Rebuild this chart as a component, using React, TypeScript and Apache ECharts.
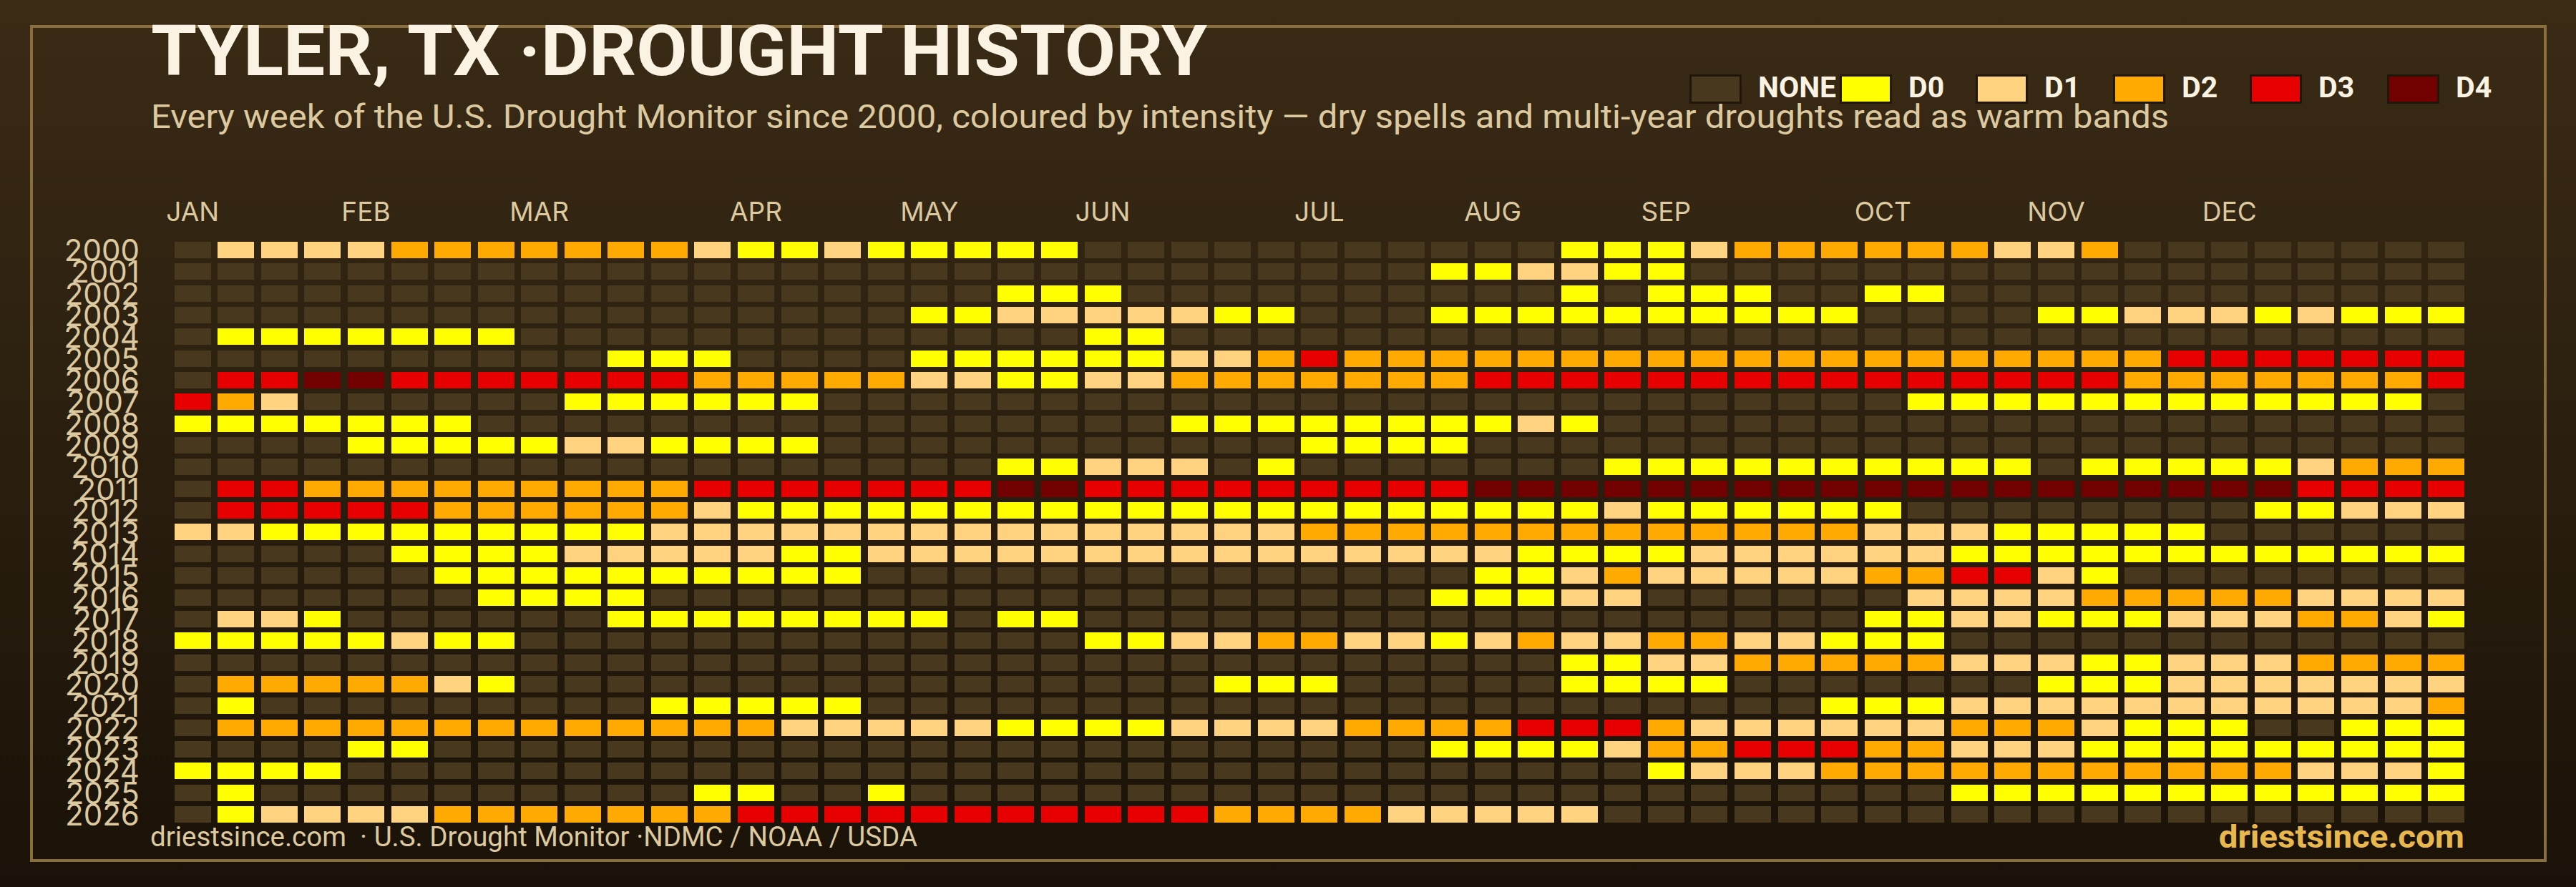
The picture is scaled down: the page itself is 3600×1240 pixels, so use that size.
import React, { useEffect, useRef } from 'react';
import * as echarts from 'echarts';

const TEXT_FONT = 'Roboto';
const AXIS_FONT = 'Inter';

const years = ['2000', '2001', '2002', '2003', '2004', '2005', '2006', '2007', '2008', '2009', '2010', '2011', '2012', '2013', '2014', '2015', '2016', '2017', '2018', '2019', '2020', '2021', '2022', '2023', '2024', '2025', '2026'];

// one label per week, the month name sits on its first week
const weekLabels = [
    'JAN', '', '', '', 'FEB', '', '', '', 'MAR', '',
    '', '', '', 'APR', '', '', '', 'MAY', '', '',
    '', 'JUN', '', '', '', '', 'JUL', '', '', '',
    'AUG', '', '', '', 'SEP', '', '', '', '', 'OCT',
    '', '', '', 'NOV', '', '', '', 'DEC', '', '',
    '', '', ''
];

const levelNames = ['NONE', 'D0', 'D1', 'D2', 'D3', 'D4'];
const levelColors = ['#48381e', '#ffff00', '#ffd37f', '#ffaa00', '#e60000', '#730000'];
const legendX = [2361, 2571, 2761, 2953, 3144, 3336];

// intensity per week: 0 none, 1 D0, 2 D1, 3 D2, 4 D3, 5 D4
const y2000 = [0,2,2,2,2,3,3,3,3,3, 3,3,2,1,1,2,1,1,1,1, 1,0,0,0,0,0,0,0,0,0, 0,0,1,1,1,2,3,3,3,3, 3,3,2,2,3,0,0,0,0,0, 0,0,0];
const y2001 = [0,0,0,0,0,0,0,0,0,0, 0,0,0,0,0,0,0,0,0,0, 0,0,0,0,0,0,0,0,0,1, 1,2,2,1,1,0,0,0,0,0, 0,0,0,0,0,0,0,0,0,0, 0,0,0];
const y2002 = [0,0,0,0,0,0,0,0,0,0, 0,0,0,0,0,0,0,0,0,1, 1,1,0,0,0,0,0,0,0,0, 0,0,1,0,1,1,1,0,0,1, 1,0,0,0,0,0,0,0,0,0, 0,0,0];
const y2003 = [0,0,0,0,0,0,0,0,0,0, 0,0,0,0,0,0,0,1,1,2, 2,2,2,2,1,1,0,0,0,1, 1,1,1,1,1,1,1,1,1,0, 0,0,0,1,1,2,2,2,1,2, 1,1,1];
const y2004 = [0,1,1,1,1,1,1,1,0,0, 0,0,0,0,0,0,0,0,0,0, 0,1,1,0,0,0,0,0,0,0, 0,0,0,0,0,0,0,0,0,0, 0,0,0,0,0,0,0,0,0,0, 0,0,0];
const y2005 = [0,0,0,0,0,0,0,0,0,0, 1,1,1,0,0,0,0,1,1,1, 1,1,1,2,2,3,4,3,3,3, 3,3,3,3,3,3,3,3,3,3, 3,3,3,3,3,3,4,4,4,4, 4,4,4];
const y2006 = [0,4,4,5,5,4,4,4,4,4, 4,4,3,3,3,3,3,2,2,1, 1,2,2,3,3,3,3,3,3,3, 4,4,4,4,4,4,4,4,4,4, 4,4,4,4,4,3,3,3,3,3, 3,3,4];
const y2007 = [4,3,2,0,0,0,0,0,0,1, 1,1,1,1,1,0,0,0,0,0, 0,0,0,0,0,0,0,0,0,0, 0,0,0,0,0,0,0,0,0,0, 1,1,1,1,1,1,1,1,1,1, 1,1,0];
const y2008 = [1,1,1,1,1,1,1,0,0,0, 0,0,0,0,0,0,0,0,0,0, 0,0,0,1,1,1,1,1,1,1, 1,2,1,0,0,0,0,0,0,0, 0,0,0,0,0,0,0,0,0,0, 0,0,0];
const y2009 = [0,0,0,0,1,1,1,1,1,2, 2,1,1,1,1,0,0,0,0,0, 0,0,0,0,0,0,1,1,1,1, 0,0,0,0,0,0,0,0,0,0, 0,0,0,0,0,0,0,0,0,0, 0,0,0];
const y2010 = [0,0,0,0,0,0,0,0,0,0, 0,0,0,0,0,0,0,0,0,1, 1,2,2,2,0,1,0,0,0,0, 0,0,0,1,1,1,1,1,1,1, 1,1,1,0,1,1,1,1,1,2, 3,3,3];
const y2011 = [0,4,4,3,3,3,3,3,3,3, 3,3,4,4,4,4,4,4,4,5, 5,4,4,4,4,4,4,4,4,4, 5,5,5,5,5,5,5,5,5,5, 5,5,5,5,5,5,5,5,5,4, 4,4,4];
const y2012 = [0,4,4,4,4,4,3,3,3,3, 3,3,2,1,1,1,1,1,1,1, 1,1,1,1,1,1,1,1,1,1, 1,1,1,2,1,1,1,1,1,1, 0,0,0,0,0,0,0,0,1,1, 2,2,2];
const y2013 = [2,2,1,1,1,1,1,1,1,1, 1,2,2,2,2,2,2,2,2,2, 2,2,2,2,2,2,3,3,3,3, 3,3,3,3,3,3,3,3,3,2, 2,2,1,1,1,1,1,0,0,0, 0,0,0];
const y2014 = [0,0,0,0,0,1,1,1,1,2, 2,2,2,2,1,1,2,2,2,2, 2,2,2,2,2,2,2,2,2,2, 2,1,1,1,1,2,2,2,2,2, 2,1,1,1,1,1,1,1,1,1, 1,1,1];
const y2015 = [0,0,0,0,0,0,1,1,1,1, 1,1,1,1,1,1,0,0,0,0, 0,0,0,0,0,0,0,0,0,0, 1,1,2,3,2,2,2,2,2,3, 3,4,4,2,1,0,0,0,0,0, 0,0,0];
const y2016 = [0,0,0,0,0,0,0,1,1,1, 1,0,0,0,0,0,0,0,0,0, 0,0,0,0,0,0,0,0,0,1, 1,1,2,2,0,0,0,0,0,0, 2,2,2,2,3,3,3,3,3,2, 2,2,2];
const y2017 = [0,2,2,1,0,0,0,0,0,0, 1,1,1,1,1,1,1,1,0,1, 1,0,0,0,0,0,0,0,0,0, 0,0,0,0,0,0,0,0,0,1, 1,2,2,1,1,1,2,2,2,3, 3,2,1];
const y2018 = [1,1,1,1,1,2,1,1,0,0, 0,0,0,0,0,0,0,0,0,0, 0,1,1,2,2,3,3,2,2,1, 2,3,2,2,3,3,2,2,1,1, 1,0,0,0,0,0,0,0,0,0, 0,0,0];
const y2019 = [0,0,0,0,0,0,0,0,0,0, 0,0,0,0,0,0,0,0,0,0, 0,0,0,0,0,0,0,0,0,0, 0,0,1,1,2,2,3,3,3,3, 3,2,2,2,1,1,2,2,2,3, 3,3,3];
const y2020 = [0,3,3,3,3,3,2,1,0,0, 0,0,0,0,0,0,0,0,0,0, 0,0,0,0,1,1,1,0,0,0, 0,0,1,1,1,1,0,0,0,0, 0,0,0,1,1,1,2,2,2,2, 2,2,2];
const y2021 = [0,1,0,0,0,0,0,0,0,0, 0,1,1,1,1,1,0,0,0,0, 0,0,0,0,0,0,0,0,0,0, 0,0,0,0,0,0,0,0,1,1, 1,2,2,2,2,2,2,2,2,2, 2,2,3];
const y2022 = [0,3,3,3,3,3,3,3,3,3, 3,3,3,3,2,2,2,2,2,1, 1,1,1,2,2,2,2,3,3,3, 3,4,4,4,3,2,2,2,2,2, 2,3,3,3,2,1,1,1,0,0, 1,1,1];
const y2023 = [0,0,0,0,1,1,0,0,0,0, 0,0,0,0,0,0,0,0,0,0, 0,0,0,0,0,0,0,0,0,1, 1,1,1,2,3,3,4,4,4,3, 3,2,2,2,1,1,1,1,1,1, 1,1,1];
const y2024 = [1,1,1,1,0,0,0,0,0,0, 0,0,0,0,0,0,0,0,0,0, 0,0,0,0,0,0,0,0,0,0, 0,0,0,0,1,2,2,2,3,3, 3,3,3,3,3,3,3,3,3,2, 2,2,1];
const y2025 = [0,1,0,0,0,0,0,0,0,0, 0,0,1,1,0,0,1,0,0,0, 0,0,0,0,0,0,0,0,0,0, 0,0,0,0,0,0,0,0,0,0, 0,1,1,1,1,1,1,1,1,1, 1,1,1];
const y2026 = [0,1,2,2,2,2,3,3,3,3, 3,3,3,4,4,4,4,4,4,4, 4,4,4,4,3,3,3,3,2,2, 2,2,2,0,0,0,0,0,0,0, 0,0,0,0,0,0,0,0,0,0, 0,0,0];

const yearRows = [y2000, y2001, y2002, y2003, y2004, y2005, y2006, y2007, y2008, y2009, y2010, y2011, y2012, y2013, y2014, y2015, y2016, y2017, y2018, y2019, y2020, y2021, y2022, y2023, y2024, y2025, y2026];

const cells = yearRows.flatMap((row, r) => row.map((level, w) => [w, r, level]));

const App = () => {
    const chartRef = useRef<HTMLDivElement>(null);

    useEffect(() => {
        const chart = echarts.init(chartRef.current, null, { renderer: 'svg' });

        // scaleX stretches Roboto out to the wider face the reference uses
        const label = (text: string, x: number, y: number, size: number, fill: string, weight = 'normal', align = 'left', scaleX = 1) => ({
            type: 'text',
            x,
            y,
            scaleX,
            style: { text, fill, align, verticalAlign: 'middle', font: `${weight} ${size}px ${TEXT_FONT}` },
        });

        const legend = levelNames.flatMap((name, i) => [
            {
                type: 'rect',
                shape: { x: legendX[i] + 1.5, y: 105.5, width: 70, height: 38 },
                style: { fill: levelColors[i], stroke: '#21160a', lineWidth: 3 },
            },
            label(name, legendX[i] + 96, 122, 41, '#faf3e3', 'bold'),
        ]);

        chart.setOption({
            animation: false,
            backgroundColor: {
                type: 'linear', x: 0, y: 0, x2: 0, y2: 1,
                colorStops: [{ offset: 0, color: '#3a2b15' }, { offset: 1, color: '#1a1208' }],
            },
            grid: { left: 238.9, top: 334.3, width: 3210, height: 819.4 },
            xAxis: {
                type: 'category',
                position: 'top',
                data: weekLabels,
                axisLine: { show: false },
                axisTick: { show: false },
                splitLine: { show: false },
                axisLabel: { show: true, interval: 0, margin: 20, color: '#dcc9a0', fontSize: 37, fontFamily: AXIS_FONT },
            },
            yAxis: {
                type: 'category',
                inverse: true,
                data: years,
                axisLine: { show: false },
                axisTick: { show: false },
                splitLine: { show: false },
                axisLabel: { show: true, interval: 0, margin: 44, color: '#dcc9a0', fontSize: 42, fontFamily: AXIS_FONT, lineHeight: 18, padding: [0, 0, 11, 0] },
            },
            series: [{
                type: 'custom',
                data: cells,
                encode: { x: 0, y: 1 },
                renderItem: (_params: any, api: any) => {
                    const [cx, cy] = api.coord([api.value(0), api.value(1)]);
                    const [bandW, bandH] = api.size([1, 1]);
                    const w = bandW * 0.842;
                    const h = bandH * 0.758;
                    return {
                        type: 'rect',
                        shape: { x: Math.round(cx - w / 2), y: Math.round(cy - h / 2), width: Math.round(w), height: Math.round(h) },
                        style: { fill: levelColors[api.value(2)] },
                    };
                },
            }],
            graphic: [
                {
                    type: 'rect',
                    shape: { x: 44, y: 37, width: 3513, height: 1166 },
                    style: { fill: 'transparent', stroke: '#8a6f3c', lineWidth: 4 },
                },
                label('TYLER, TX ·DROUGHT HISTORY', 211, 72, 98, '#faf3e3', 'bold', 'left', 1.056),
                label('Every week of the U.S. Drought Monitor since 2000, coloured by intensity — dry spells and multi-year droughts read as warm bands', 211, 164, 46, '#dcc9a0', 'normal', 'left', 1.065),
                ...legend,
                label('driestsince.com  · U.S. Drought Monitor ·NDMC / NOAA / USDA', 210, 1170, 38, '#dcc9a0', 'normal', 'left', 1.013),
                label('driestsince.com', 3444, 1170, 44, '#e8b84e', 'bold', 'right', 1.08),
            ],
        });

        return () => {
            chart.dispose();
        };
    }, []);

    return <div ref={chartRef} style={{ position: 'absolute', left: 0, top: 0, width: 3600, height: 1240 }} />;
};

export default App;
